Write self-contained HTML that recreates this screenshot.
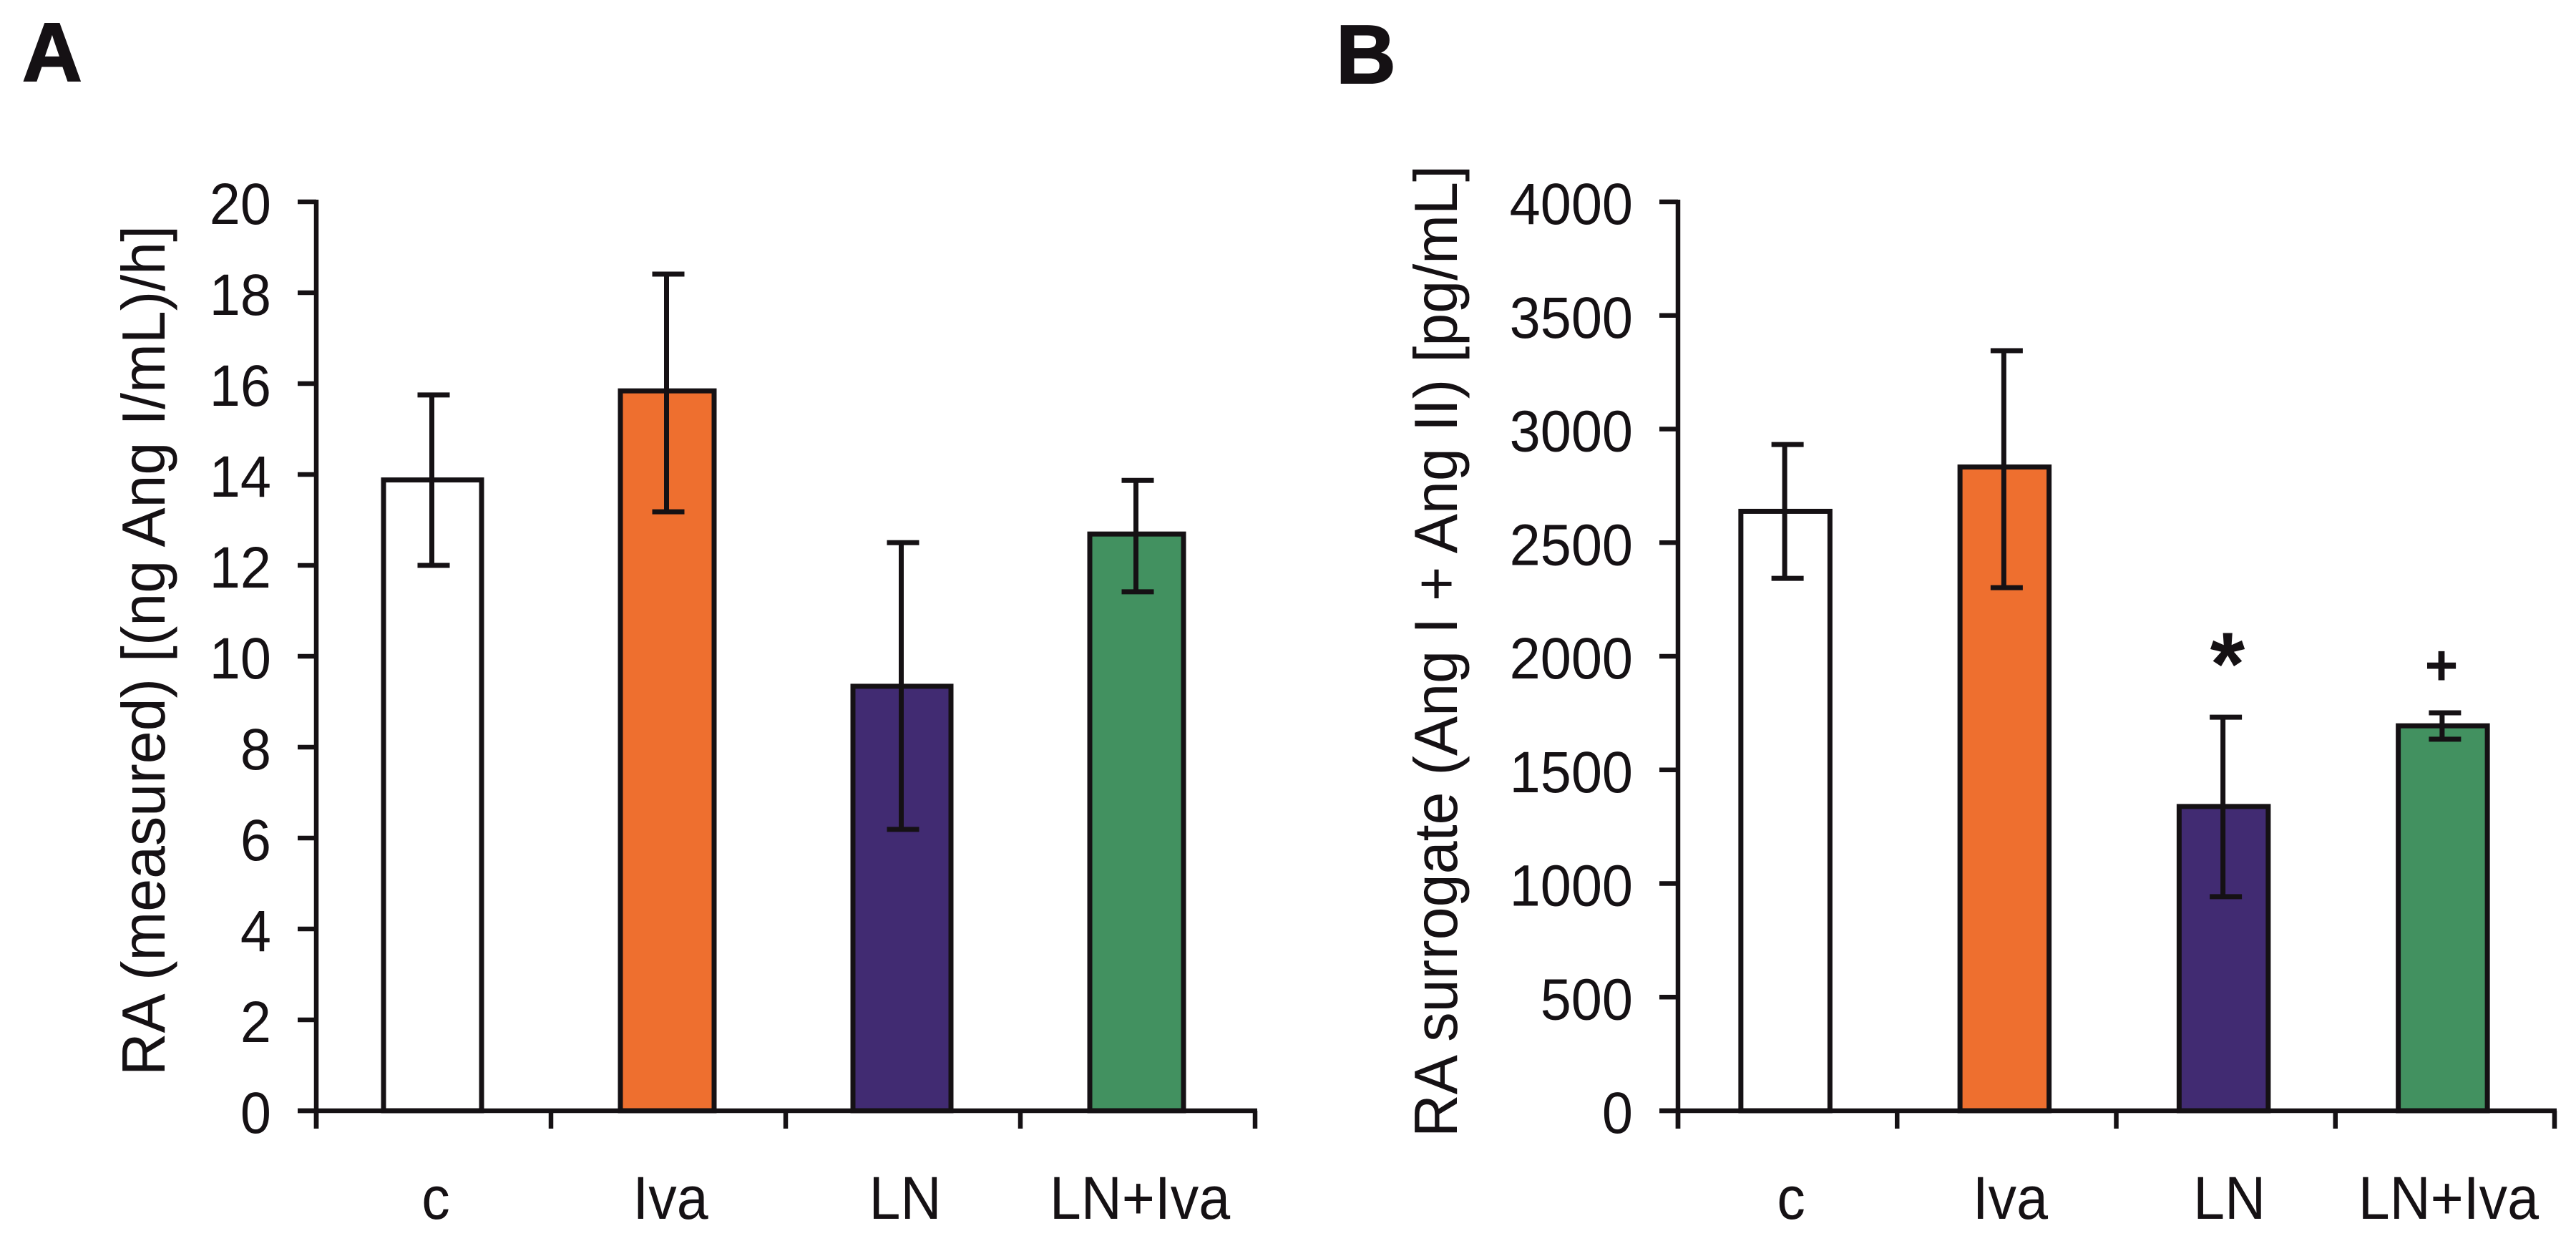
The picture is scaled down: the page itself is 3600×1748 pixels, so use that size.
<!DOCTYPE html>
<html lang="en">
<head>
<meta charset="utf-8">
<title>RA measured and surrogate bar charts</title>
<style>
html,body{margin:0;padding:0;background:#fff;}
svg{display:block;}
text{font-family:"Liberation Sans",Arial,sans-serif;fill:#151114;}
</style>
</head>
<body>
<svg id="figure" xmlns="http://www.w3.org/2000/svg" width="3600" height="1748" viewBox="0 0 3600 1748">
  <rect x="0" y="0" width="3600" height="1748" fill="#ffffff"/>
  <text x="31" y="113" font-size="116" font-weight="700" stroke="#151114" stroke-width="2">A</text>
  <text x="1867" y="116" font-size="116" font-weight="700" stroke="#151114" stroke-width="2">B</text>
  <text transform="translate(230,1503) rotate(-90)" font-size="85" textLength="1188" lengthAdjust="spacingAndGlyphs">RA (measured) [(ng Ang I/mL)/h]</text>
  <text transform="translate(2036,1589) rotate(-90)" font-size="85" textLength="1358" lengthAdjust="spacingAndGlyphs">RA surrogate (Ang I + Ang II) [pg/mL]</text>
  <text x="3113" y="971" font-size="125" font-weight="700" text-anchor="middle">*</text>
  <text x="3412" y="957" font-size="80" font-weight="700" text-anchor="middle">+</text>
  <g id="panel-a"></g>
  <g id="panel-b"></g>
</svg>
<script>
const categories = ['c', 'Iva', 'LN', 'LN+Iva'];
const barColors = ['#ffffff', '#ee6f2f', '#412b72', '#429160'];

const measuredMeans = [13.88, 15.84, 9.34, 12.69];
const measuredUpper = [15.75, 18.41, 12.5, 13.87];
const measuredLower = [12.0, 13.18, 6.19, 11.42];
const measuredTicks = [0, 2, 4, 6, 8, 10, 12, 14, 16, 18, 20];

const surrogateMeans = [2638, 2833, 1339, 1694];
const surrogateUpper = [2932, 3345, 1732, 1751];
const surrogateLower = [2343, 2302, 942, 1635];
const surrogateTicks = [0, 500, 1000, 1500, 2000, 2500, 3000, 3500, 4000];

const INK = '#151114';
const SVG_NS = 'http://www.w3.org/2000/svg';

function make(tag, parent, attrs, content) {
  const node = document.createElementNS(SVG_NS, tag);
  for (const key in attrs) node.setAttribute(key, attrs[key]);
  if (content !== undefined) node.textContent = content;
  parent.appendChild(node);
  return node;
}

function drawPanel(cfg) {
  const root = document.getElementById(cfg.id);
  const maxTick = cfg.ticks[cfg.ticks.length - 1];
  const y = v => cfg.y0 - (v / maxTick) * (cfg.y0 - cfg.y1);
  const step = (cfg.x1 - cfg.x0) / categories.length;
  const bandCenter = i => cfg.x0 + step * (i + 0.5);

  // bars
  categories.forEach((cat, i) => {
    const cx = bandCenter(i) + cfg.barShift;
    const w = cfg.barWidths[i % cfg.barWidths.length];
    const bar = make('rect', root, {
      x: cx - w / 2,
      y: y(cfg.means[i]),
      width: w,
      height: y(0) - y(cfg.means[i]),
      fill: barColors[i],
      stroke: INK,
      'stroke-width': 7
    });
    
    
  });

  // error bars
  categories.forEach((cat, i) => {
    const cx = bandCenter(i) + cfg.barShift - 1;
    const capCx = bandCenter(i);
    const group = make('g', root, { stroke: INK, fill: 'none' });
    
    
    make('line', group, { x1: cx, x2: cx, y1: y(cfg.upper[i]), y2: y(cfg.lower[i]), 'stroke-width': 7 });
    make('line', group, { x1: capCx - 22.5, x2: capCx + 22.5, y1: y(cfg.upper[i]), y2: y(cfg.upper[i]), 'stroke-width': 7 });
    make('line', group, { x1: capCx - 22.5, x2: capCx + 22.5, y1: y(cfg.lower[i]), y2: y(cfg.lower[i]), 'stroke-width': 7 });
  });

  // y axis
  const yAxis = make('line', root, { x1: cfg.x0, x2: cfg.x0, y1: y(maxTick) - 3, y2: y(0) + 25, stroke: INK, 'stroke-width': 6.5 });
  
  

  // x axis
  const xAxis = make('line', root, { x1: cfg.x0 - 26, x2: cfg.x1 + 3, y1: y(0), y2: y(0), stroke: INK, 'stroke-width': 6.5 });
  
  

  // y ticks and labels
  cfg.ticks.forEach(t => {
    const tick = make('line', root, { x1: cfg.x0 - 26, x2: cfg.x0, y1: y(t), y2: y(t), stroke: INK, 'stroke-width': 6.5 });
    
    
    const label = make('text', root, {
      transform: 'translate(' + (cfg.x0 - 63) + ',' + (y(t) + 31) + ') scale(0.945,1)',
      'font-size': 82,
      'text-anchor': 'end'
    }, String(t));
    
    
  });

  // x ticks (band boundaries)
  for (let i = 0; i <= categories.length; i++) {
    const tx = cfg.x0 + step * i;
    const tick = make('line', root, { x1: tx, x2: tx, y1: y(0), y2: y(0) + 25, stroke: INK, 'stroke-width': 6.5 });
    
    
  }

  // category labels
  categories.forEach((cat, i) => {
    const label = make('text', root, {
      transform: 'translate(' + (bandCenter(i) + cfg.labelShift) + ',1703) scale(0.94,1)',
      'font-size': 84,
      'text-anchor': 'middle'
    }, cat);
    
    
  });
}

drawPanel({
  id: 'panel-a', x0: 442, x1: 1754, y0: 1552, y1: 282,
  barWidths: [137, 131], barShift: -1.5, labelShift: 3,
  ticks: measuredTicks, means: measuredMeans, upper: measuredUpper, lower: measuredLower
});
drawPanel({
  id: 'panel-b', x0: 2345, x1: 3570, y0: 1552, y1: 282,
  barWidths: [124.5], barShift: -3, labelShift: 5,
  ticks: surrogateTicks, means: surrogateMeans, upper: surrogateUpper, lower: surrogateLower
});
</script>
</body>
</html>
